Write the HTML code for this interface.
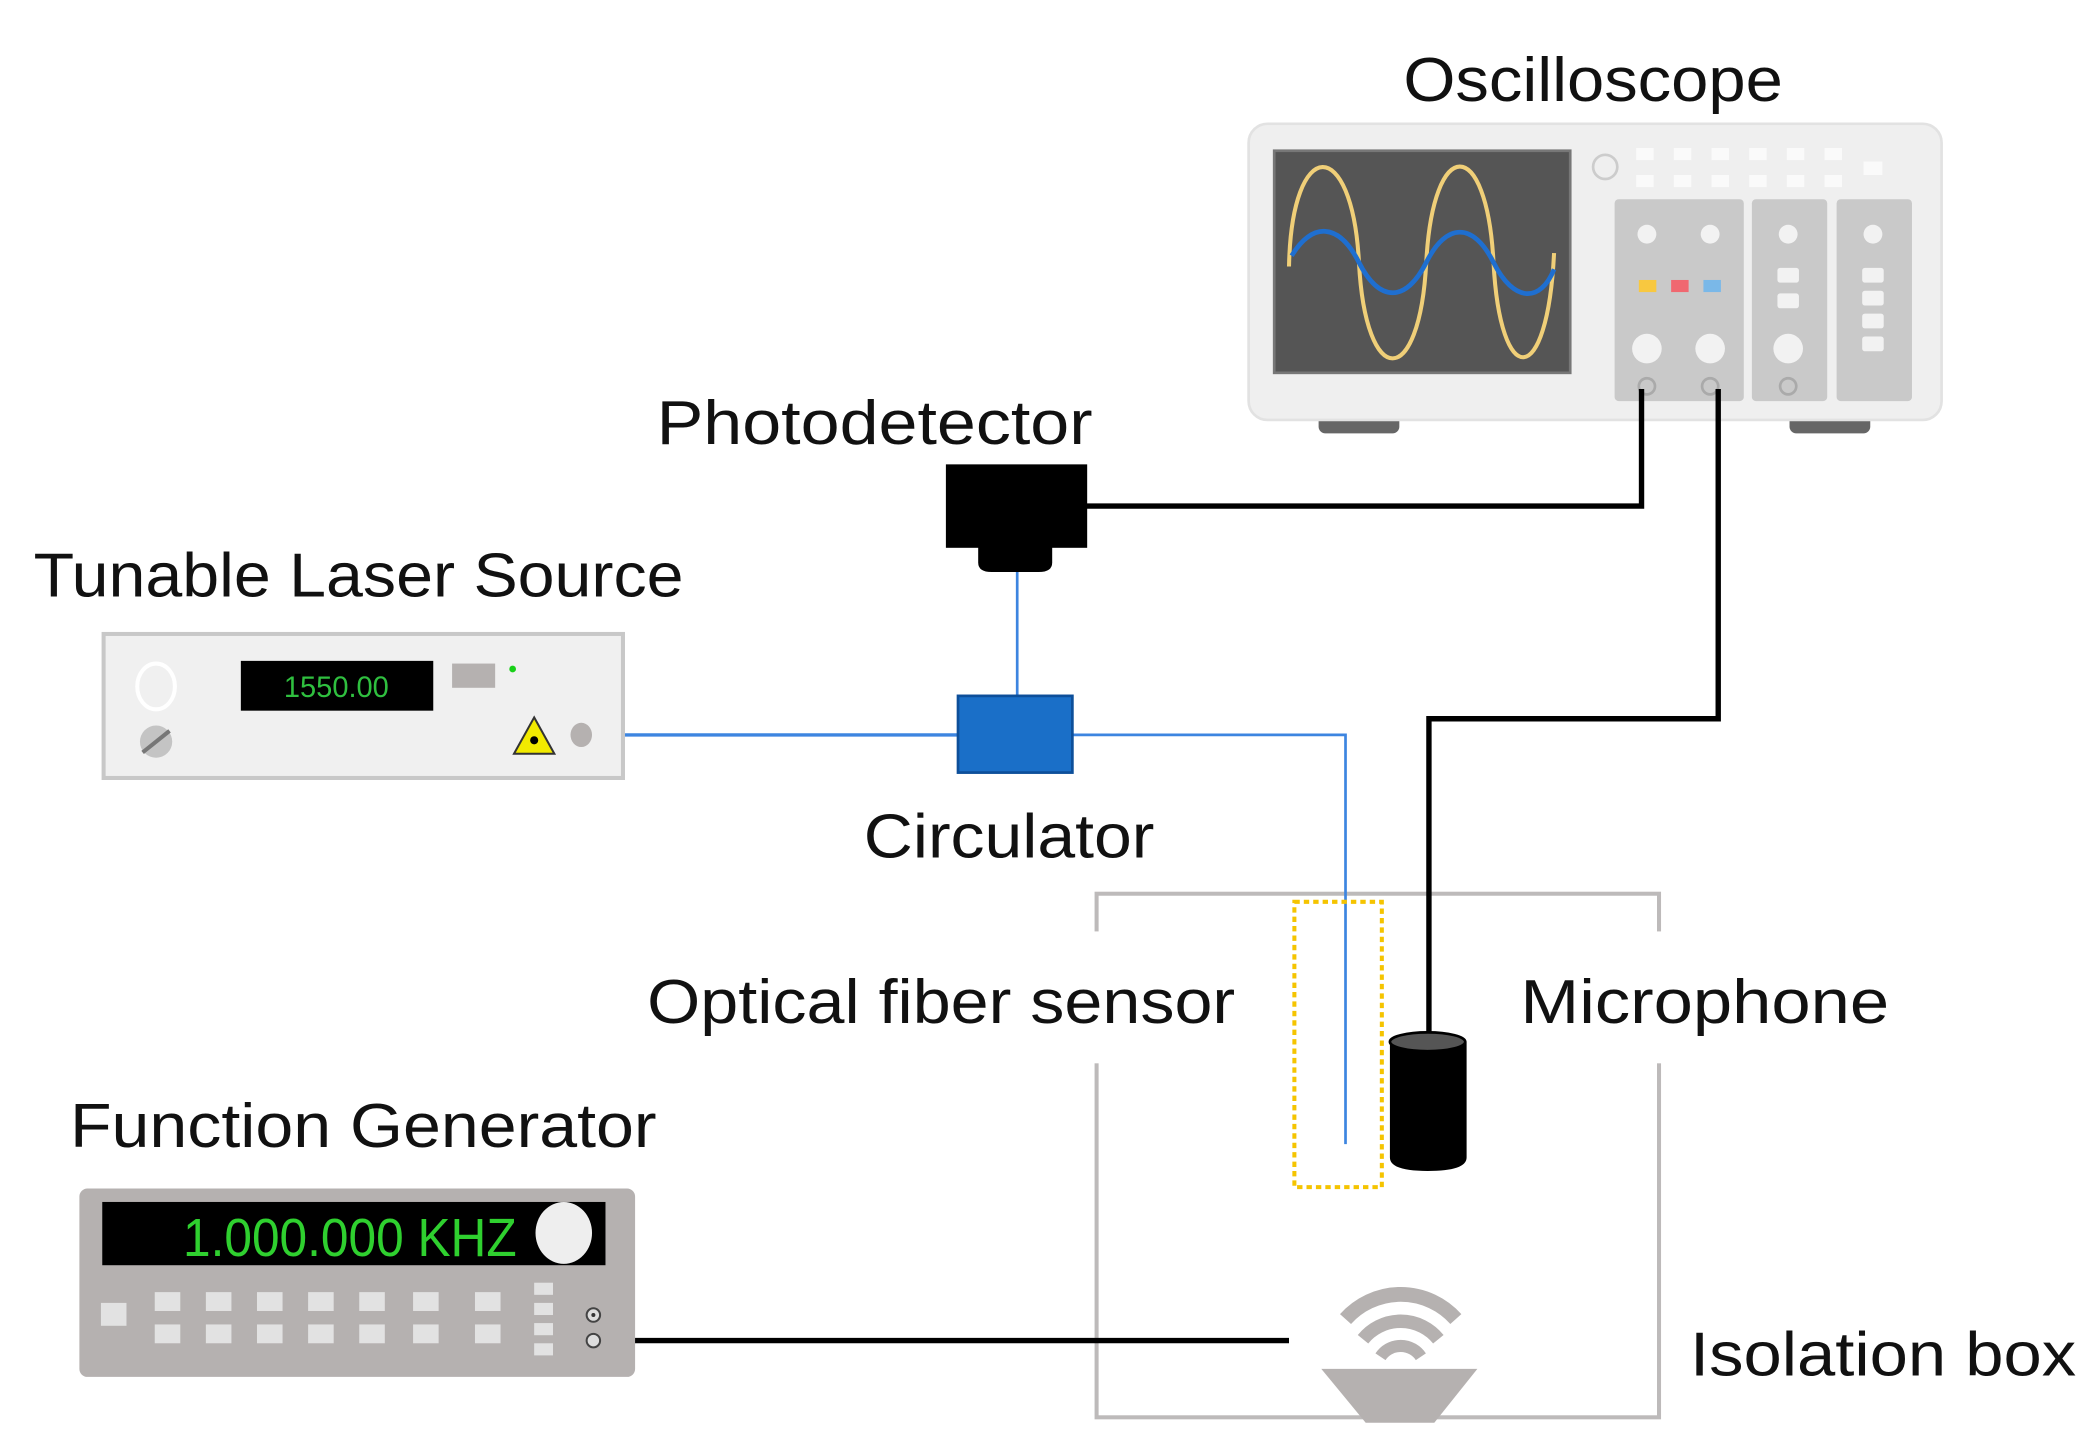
<!DOCTYPE html>
<html><head><meta charset="utf-8"><style>
html,body{margin:0;padding:0;background:#fff;}
svg{display:block;}
text{font-family:"Liberation Sans",sans-serif;fill:#111;}
</style></head><body>
<svg width="2099" height="1455" viewBox="0 0 1560 1081" preserveAspectRatio="none" xmlns="http://www.w3.org/2000/svg">
<rect width="1560" height="1081" fill="#fff"/>

<!-- Isolation box -->
<rect x="815" y="664" width="418" height="389" fill="none" stroke="#bdbaba" stroke-width="3"/>
<rect x="450" y="692" width="372" height="98" fill="#fff"/>
<rect x="1092" y="692" width="348" height="98" fill="#fff"/>

<!-- Labels -->
<text x="1043" y="75" font-size="46" textLength="282" lengthAdjust="spacingAndGlyphs">Oscilloscope</text>
<text x="488" y="330" font-size="46" textLength="324" lengthAdjust="spacingAndGlyphs">Photodetector</text>
<text x="25" y="443" font-size="46" textLength="483" lengthAdjust="spacingAndGlyphs">Tunable Laser Source</text>
<text x="642" y="637" font-size="46" textLength="216" lengthAdjust="spacingAndGlyphs">Circulator</text>
<text x="481" y="760" font-size="46" textLength="437" lengthAdjust="spacingAndGlyphs">Optical fiber sensor</text>
<text x="1130" y="760" font-size="46" textLength="274" lengthAdjust="spacingAndGlyphs">Microphone</text>
<text x="52" y="852" font-size="46" textLength="436" lengthAdjust="spacingAndGlyphs">Function Generator</text>
<text x="1256" y="1022" font-size="46" textLength="287" lengthAdjust="spacingAndGlyphs">Isolation box</text>

<!-- Oscilloscope -->
<rect x="980" y="308" width="60" height="14" rx="5" fill="#666"/>
<rect x="1330" y="308" width="60" height="14" rx="5" fill="#666"/>
<rect x="928" y="92" width="515" height="220" rx="14" fill="#efefef" stroke="#e2e2e2" stroke-width="2"/>
<rect x="947" y="112" width="220" height="165" fill="#555" stroke="#777" stroke-width="2"/>
<path d="M958,198 C960,100 1005,100 1010,195 C1015,290 1055,290 1060,195 C1065,100 1105,100 1110,195 C1115,290 1150,290 1155,188" fill="none" stroke="#f0cf78" stroke-width="3"/>
<path d="M960,190 C975,165 995,165 1010,195 C1025,225 1045,225 1060,195 C1075,165 1095,165 1110,195 C1125,225 1145,225 1155,200" fill="none" stroke="#1f6fd0" stroke-width="3.5"/>
<circle cx="1193" cy="124" r="9" fill="none" stroke="#ccc" stroke-width="2"/>
<g fill="#fafafa">
<rect x="1216" y="110" width="13" height="9"/><rect x="1244" y="110" width="13" height="9"/><rect x="1272" y="110" width="13" height="9"/><rect x="1300" y="110" width="13" height="9"/><rect x="1328" y="110" width="13" height="9"/><rect x="1356" y="110" width="13" height="9"/>
<rect x="1216" y="130" width="13" height="9"/><rect x="1244" y="130" width="13" height="9"/><rect x="1272" y="130" width="13" height="9"/><rect x="1300" y="130" width="13" height="9"/><rect x="1328" y="130" width="13" height="9"/><rect x="1356" y="130" width="13" height="9"/>
<rect x="1385" y="120" width="14" height="10"/>
</g>
<rect x="1200" y="148" width="96" height="150" rx="3" fill="#c9c9c9"/>
<rect x="1302" y="148" width="56" height="150" rx="3" fill="#c9c9c9"/>
<rect x="1365" y="148" width="56" height="150" rx="3" fill="#c9c9c9"/>
<g fill="#f2f2f2">
<circle cx="1224" cy="174" r="7"/><circle cx="1271" cy="174" r="7"/><circle cx="1329" cy="174" r="7"/><circle cx="1392" cy="174" r="7"/>
<circle cx="1224" cy="259" r="11"/><circle cx="1271" cy="259" r="11"/><circle cx="1329" cy="259" r="11"/>
<rect x="1321" y="199" width="16" height="11" rx="2"/><rect x="1321" y="218" width="16" height="11" rx="2"/>
<rect x="1384" y="199" width="16" height="11" rx="2"/><rect x="1384" y="216" width="16" height="11" rx="2"/><rect x="1384" y="233" width="16" height="11" rx="2"/><rect x="1384" y="250" width="16" height="11" rx="2"/>
</g>
<rect x="1218" y="208" width="13" height="9" fill="#f8c840"/>
<rect x="1242" y="208" width="13" height="9" fill="#f06870"/>
<rect x="1266" y="208" width="13" height="9" fill="#7ab8e8"/>
<g fill="none" stroke="#aaa" stroke-width="2">
<circle cx="1224" cy="287" r="6"/><circle cx="1271" cy="287" r="6"/><circle cx="1329" cy="287" r="6"/>
</g>

<!-- Black wires -->
<polyline points="1220,289 1220,376 805,376" fill="none" stroke="#000" stroke-width="4"/>
<polyline points="1277,289 1277,534 1062,534 1062,772" fill="none" stroke="#000" stroke-width="4"/>
<line x1="441" y1="996" x2="958" y2="996" stroke="#000" stroke-width="4"/>

<!-- Photodetector -->
<rect x="703" y="345" width="105" height="62" fill="#000"/>
<path d="M727,405 H782 V418 Q782,425 772,425 H737 Q727,425 727,418 Z" fill="#000"/>

<!-- Blue fiber -->
<polyline points="756,425 756,517" fill="none" stroke="#3d85e0" stroke-width="2"/>
<polyline points="432,546 712,546" fill="none" stroke="#3d85e0" stroke-width="2.5"/>
<polyline points="797,546 1000,546 1000,850" fill="none" stroke="#3d85e0" stroke-width="2"/>
<rect x="712" y="517" width="85" height="57" fill="#1a6fc8" stroke="#0d4f9a" stroke-width="2"/>

<!-- Laser source -->
<rect x="77" y="471" width="386" height="107" fill="#f0f0f0" stroke="#c8c8c8" stroke-width="3"/>
<ellipse cx="116" cy="510" rx="14" ry="17" fill="none" stroke="#fff" stroke-width="3"/>
<circle cx="116" cy="551" r="12" fill="#c4c4c4"/>
<line x1="106" y1="559" x2="126" y2="543" stroke="#777" stroke-width="3"/>
<rect x="179" y="491" width="143" height="37" fill="#000"/>
<text x="250" y="518" font-size="22" fill="#2fbf3f" style="fill:#2fbf3f" text-anchor="middle" textLength="78" lengthAdjust="spacingAndGlyphs">1550.00</text>
<rect x="336" y="493" width="32" height="18" fill="#b5b1b0"/>
<circle cx="381" cy="497" r="2.5" fill="#18d018"/>
<path d="M397,533 L412,560 H382 Z" fill="#f2ea00" stroke="#333" stroke-width="1.5"/>
<circle cx="397" cy="550" r="3" fill="#000"/>
<ellipse cx="432" cy="546" rx="8" ry="9" fill="#b5b1b0"/>

<!-- Optical fiber sensor dotted box -->
<rect x="962" y="670" width="65" height="212" fill="none" stroke="#f5c400" stroke-width="3" stroke-dasharray="4,3"/>

<!-- Microphone -->
<path d="M1033,774 V860 Q1033,870 1061,870 Q1090,870 1090,860 V774 Z" fill="#000"/>
<ellipse cx="1061" cy="774" rx="28" ry="7" fill="#555" stroke="#000" stroke-width="2"/>

<!-- Speaker -->
<g fill="none" stroke="#b5b1b0" stroke-linecap="butt">
<path d="M1000,980 A55,55 0 0 1 1082,980" stroke-width="11"/>
<path d="M1013,995 A36,36 0 0 1 1069,995" stroke-width="10"/>
<path d="M1026,1008 A18,18 0 0 1 1056,1008" stroke-width="9"/>
</g>
<path d="M982,1017 H1098 L1066,1057 H1015 Z" fill="#b5b1b0"/>

<!-- Function generator -->
<rect x="59" y="883" width="413" height="140" rx="6" fill="#b5b1b0"/>
<rect x="76" y="893" width="374" height="47" fill="#000"/>
<text x="384" y="933" font-size="40" style="fill:#2fd02f" text-anchor="end" textLength="248" lengthAdjust="spacingAndGlyphs">1.000.000 KHZ</text>
<ellipse cx="419" cy="916" rx="21" ry="23" fill="#eee"/>
<g fill="#e2e2e2">
<rect x="75" y="968" width="19" height="17"/>
<rect x="115" y="960" width="19" height="14"/><rect x="153" y="960" width="19" height="14"/><rect x="191" y="960" width="19" height="14"/><rect x="229" y="960" width="19" height="14"/><rect x="267" y="960" width="19" height="14"/><rect x="307" y="960" width="19" height="14"/><rect x="353" y="960" width="19" height="14"/>
<rect x="115" y="984" width="19" height="14"/><rect x="153" y="984" width="19" height="14"/><rect x="191" y="984" width="19" height="14"/><rect x="229" y="984" width="19" height="14"/><rect x="267" y="984" width="19" height="14"/><rect x="307" y="984" width="19" height="14"/><rect x="353" y="984" width="19" height="14"/>
<rect x="397" y="953" width="14" height="9"/><rect x="397" y="968" width="14" height="9"/><rect x="397" y="983" width="14" height="9"/><rect x="397" y="998" width="14" height="9"/>
</g>
<circle cx="441" cy="977" r="5" fill="#ddd" stroke="#444" stroke-width="1.5"/>
<circle cx="441" cy="996" r="5" fill="#ddd" stroke="#444" stroke-width="1.5"/>
<circle cx="441" cy="977" r="1.5" fill="#333"/>
</svg>
</body></html>
